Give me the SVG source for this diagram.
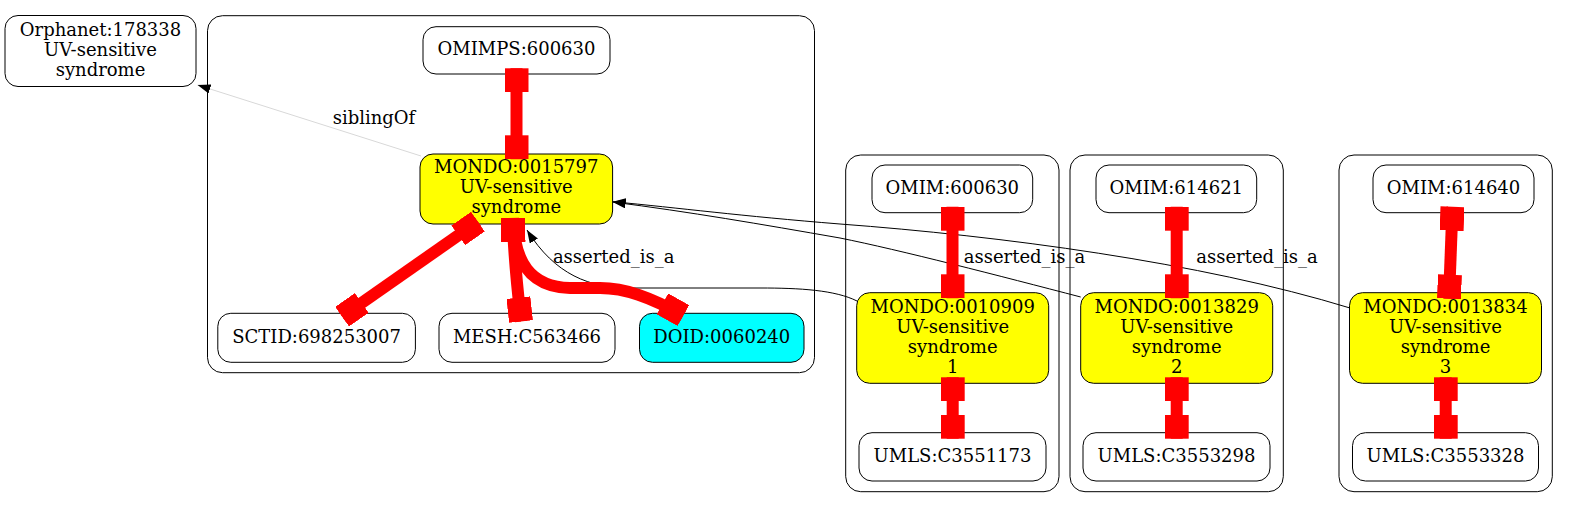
<svg xmlns="http://www.w3.org/2000/svg" width="1569" height="507" viewBox="0 0 1569 507">
<style>
.cl{fill:none;stroke:#000;stroke-width:1}
.nd{fill:#fff;stroke:#000;stroke-width:1}
.mo{fill:#ff0;stroke:#000;stroke-width:1}
.do{fill:#0ff;stroke:#000;stroke-width:1}
text{font-family:"DejaVu Serif","Liberation Serif",serif;font-size:18px;fill:#000;text-anchor:middle}
.red{fill:none;stroke:#f00;stroke-width:12;marker-start:url(#box);marker-end:url(#box)}
.blk{fill:none;stroke:#000;stroke-width:1;marker-end:url(#arr)}
.sib{fill:none;stroke:#d8d8d8;stroke-width:1;marker-end:url(#arr)}
</style>
<defs>
<marker id="box" markerUnits="userSpaceOnUse" markerWidth="24" markerHeight="24" viewBox="0 0 24 24" refX="24" refY="12" orient="auto-start-reverse">
<rect x="0" y="0" width="24" height="24" fill="#f00"/>
</marker>
<marker id="arr" markerUnits="userSpaceOnUse" markerWidth="14" markerHeight="10" viewBox="0 0 14 10" refX="13" refY="4.75" orient="auto">
<path d="M0,0 L13,4.75 L0,9.5 z" fill="#000"/>
</marker>
</defs>
<rect width="1569" height="507" fill="#fff"/>
<g id="clusters">
<rect id="cluster1" class="cl" x="207.5" y="15.7" width="607" height="357" rx="15"/>
<rect id="cluster2" class="cl" x="845.7" y="155" width="213.3" height="336.7" rx="15"/>
<rect id="cluster3" class="cl" x="1070" y="155" width="213.3" height="336.7" rx="15"/>
<rect id="cluster4" class="cl" x="1339" y="155" width="213.3" height="336.7" rx="15"/>
</g>
<g id="n_orphanet"><rect class="nd" x="5" y="15.5" width="191" height="71" rx="13"/><text x="100.5" y="35.5">Orphanet:178338</text><text x="100.5" y="55.5">UV-sensitive</text><text x="100.5" y="75.5">syndrome</text></g>
<g id="n_omimps"><rect class="nd" x="423" y="26.7" width="187" height="47.3" rx="13"/><text x="516.5" y="55">OMIMPS:600630</text></g>
<g id="n_mondo15797"><rect class="mo" x="420" y="154" width="192.6" height="70" rx="13"/><text x="516.3" y="173">MONDO:0015797</text><text x="516.3" y="193">UV-sensitive</text><text x="516.3" y="213">syndrome</text></g>
<g id="n_sctid"><rect class="nd" x="217.8" y="313.3" width="197.6" height="49" rx="13"/><text x="316.6" y="342.5">SCTID:698253007</text></g>
<g id="n_mesh"><rect class="nd" x="439" y="313.3" width="176" height="49" rx="13"/><text x="527" y="342.5">MESH:C563466</text></g>
<g id="n_doid"><rect class="do" x="639.5" y="313.3" width="164.5" height="49" rx="13"/><text x="721.8" y="342.5">DOID:0060240</text></g>
<g id="n_omim600630"><rect class="nd" x="872" y="165" width="160.7" height="47.7" rx="13"/><text x="952.3" y="193.5">OMIM:600630</text></g>
<g id="n_mondo10909"><rect class="mo" x="856.7" y="292.7" width="192" height="90.6" rx="13"/><text x="952.7" y="313">MONDO:0010909</text><text x="952.7" y="333">UV-sensitive</text><text x="952.7" y="353">syndrome</text><text x="952.7" y="373">1</text></g>
<g id="n_umls3551173"><rect class="nd" x="859" y="432.7" width="187" height="48.3" rx="13"/><text x="952.5" y="461.5">UMLS:C3551173</text></g>
<g id="n_omim614621"><rect class="nd" x="1096" y="165" width="160.7" height="47.7" rx="13"/><text x="1176.3" y="193.5">OMIM:614621</text></g>
<g id="n_mondo13829"><rect class="mo" x="1080.7" y="292.7" width="192" height="90.6" rx="13"/><text x="1176.7" y="313">MONDO:0013829</text><text x="1176.7" y="333">UV-sensitive</text><text x="1176.7" y="353">syndrome</text><text x="1176.7" y="373">2</text></g>
<g id="n_umls3553298"><rect class="nd" x="1083" y="432.7" width="187" height="48.3" rx="13"/><text x="1176.5" y="461.5">UMLS:C3553298</text></g>
<g id="n_omim614640"><rect class="nd" x="1373" y="165" width="161" height="47.7" rx="13"/><text x="1453.5" y="193.5">OMIM:614640</text></g>
<g id="n_mondo13834"><rect class="mo" x="1349.5" y="292.7" width="192" height="90.6" rx="13"/><text x="1445.5" y="313">MONDO:0013834</text><text x="1445.5" y="333">UV-sensitive</text><text x="1445.5" y="353">syndrome</text><text x="1445.5" y="373">3</text></g>
<g id="n_umls3553328"><rect class="nd" x="1352.5" y="432.7" width="186" height="48.3" rx="13"/><text x="1445.5" y="461.5">UMLS:C3553328</text></g>
<g id="connectors">
<path class="sib" d="M421,156 L197.6,85"/>
<text x="374" y="124">siblingOf</text>
<path class="blk" d="M857,301 C835,290 800,288 760,288 L630,288 C590,288 555,275 527,230"/>
<text x="613.7" y="263">asserted_is_a</text>
<path class="blk" d="M1080.7,297 C1000,276 900,250 840,238 C760,224 690,212 612.7,202"/>
<text x="1024.5" y="263">asserted_is_a</text>
<path class="blk" d="M1350,308 C1200,262 1000,236 840,224 C740,216 680,208 612.7,201.7"/>
<text x="1257" y="263">asserted_is_a</text>
<path class="red" d="M516.5,68.3 L516.5,159.3"/>
<path class="red" d="M477.9,221.6 L342.1,316.7"/>
<path class="red" d="M513,218 C513,250 517,285 521,321.5"/>
<path class="red" d="M513,218 C514,262 530,287 570,288 L600,288 C625,288 650,297 683.4,315.5"/>
<path class="red" d="M952.5,206.7 L952.5,298.3"/>
<path class="red" d="M952.7,377.3 L952.7,438.7"/>
<path class="red" d="M1176.7,206.7 L1176.7,298.3"/>
<path class="red" d="M1176.7,377.3 L1176.7,438.7"/>
<path class="red" d="M1452.5,206.7 L1449,298.7"/>
<path class="red" d="M1445.7,377.3 L1445.7,438.7"/>
</g>
</svg>
